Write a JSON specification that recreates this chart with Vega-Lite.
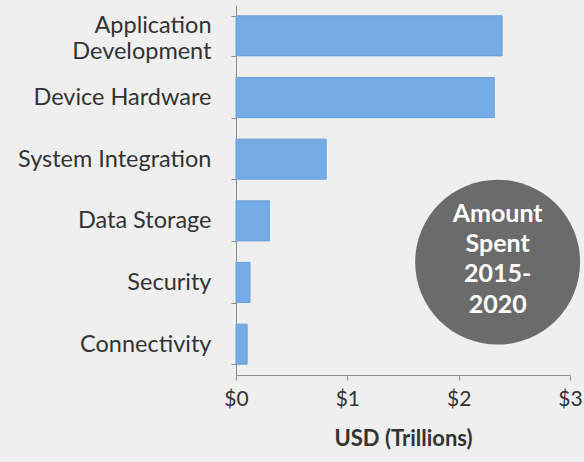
{
  "$schema": "https://vega.github.io/schema/vega-lite/v6.json",
  "autosize": "none",
  "width": 334,
  "height": 370,
  "padding": {"left": 236, "top": 5, "right": 14, "bottom": 87},
  "background": "#efefef",
  "config": {
    "view": {"stroke": null},
    "font": "Lato",
    "axis": {
      "domainColor": "#8c8c8c",
      "tickColor": "#8c8c8c",
      "labelColor": "#333333",
      "titleColor": "#333333",
      "grid": false
    }
  },
  "layer": [
    {
      "data": {
        "values": [
          {"category": "Application Development", "value": 2.39},
          {"category": "Device Hardware", "value": 2.32},
          {"category": "System Integration", "value": 0.81},
          {"category": "Data Storage", "value": 0.3},
          {"category": "Security", "value": 0.126},
          {"category": "Connectivity", "value": 0.1}
        ]
      },
      "mark": {"type": "bar", "color": "#76ace5", "stroke": "#6a9fda", "strokeWidth": 1},
      "encoding": {
        "y": {
          "field": "category",
          "type": "nominal",
          "sort": null,
          "scale": {"paddingInner": 0.35, "paddingOuter": 0.175},
          "axis": {
            "title": null,
            "tickBand": "extent",
            "tickSize": 5,
            "labelPadding": 20,
            "labelFontSize": 23.5,
            "labelLineHeight": 26,
            "labelLimit": 300,
            "labelOffset": {"condition": {"test": "datum.value == 'Application Development'", "value": -10}, "value": 0},
            "labelExpr": "datum.label == 'Application Development' ? ['Application', 'Development'] : datum.label"
          }
        },
        "x": {
          "field": "value",
          "type": "quantitative",
          "scale": {"domain": [0, 3], "nice": false},
          "axis": {
            "title": "USD (Trillions)",
            "titleFontSize": 22,
            "titleFontWeight": "bold",
            "titlePadding": 19,
            "values": [0, 1, 2, 3],
            "format": "$.0f",
            "labelFlush": false,
            "tickSize": 5,
            "labelPadding": 8,
            "labelFontSize": 21
          }
        }
      }
    },
    {
      "data": {
        "values": [
          {"value": 2.35, "pos": 4.17, "kind": "badge", "label": ""},
          {"value": 2.35, "pos": 3.39, "kind": "line", "label": "Amount"},
          {"value": 2.35, "pos": 3.87, "kind": "line", "label": "Spent"},
          {"value": 2.35, "pos": 4.36, "kind": "line", "label": "2015-"},
          {"value": 2.35, "pos": 4.86, "kind": "line", "label": "2020"}
        ]
      },
      "encoding": {
        "x": {"field": "value", "type": "quantitative"},
        "y": {
          "field": "pos",
          "type": "quantitative",
          "scale": {"domain": [0, 6], "reverse": true, "nice": false, "zero": false},
          "axis": null
        }
      },
      "layer": [
        {
          "transform": [{"filter": "datum.kind == 'badge'"}],
          "mark": {"type": "point", "shape": "circle", "filled": true, "color": "#6b6b6b", "opacity": 1, "size": 27200}
        },
        {
          "transform": [{"filter": "datum.kind == 'line'"}],
          "mark": {
            "type": "text",
            "color": "white",
            "font": "Lato",
            "fontWeight": "bold",
            "fontSize": 25,
            "align": "center",
            "baseline": "middle"
          },
          "encoding": {"text": {"field": "label"}}
        }
      ]
    }
  ],
  "resolve": {"scale": {"y": "independent"}}
}
